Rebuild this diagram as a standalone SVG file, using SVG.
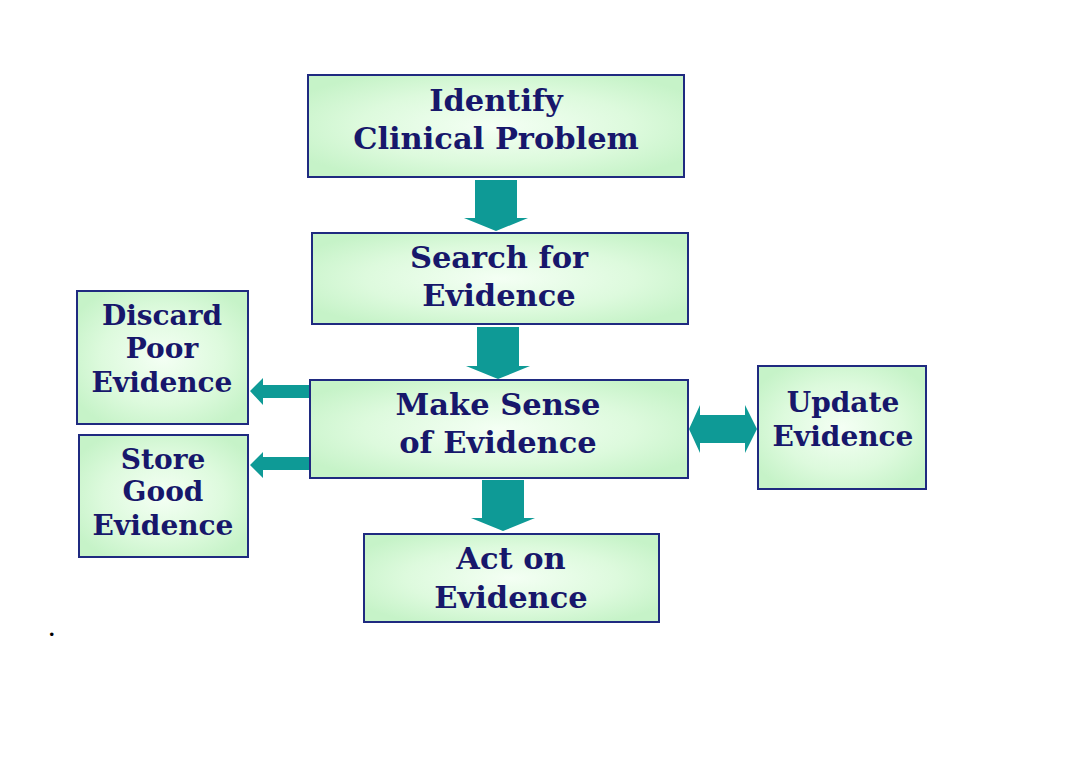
<svg xmlns="http://www.w3.org/2000/svg" width="1080" height="768" viewBox="0 0 1080 768">
<defs>
<radialGradient id="g" cx="50%" cy="50%" r="60%">
<stop offset="0" stop-color="#f4fff4"/>
<stop offset="0.6" stop-color="#ddfadd"/>
<stop offset="1" stop-color="#c6f3c8"/>
</radialGradient>
<style>
.box{fill:url(#g);stroke:#1f2a80;stroke-width:2}
.t{font-family:"DejaVu Serif","Liberation Serif",serif;font-weight:bold;fill:#17176b;text-anchor:middle}
.big{font-size:30.5px}
.sm{font-size:28px}
.arr{fill:#0e9a96}
</style>
</defs>
<rect width="1080" height="768" fill="#ffffff"/>
<g id="connectors">
<polygon class="arr" points="475,180 517,180 517,218 528,218 496,231 464,218 475,218"/>
<polygon class="arr" points="477,327 519,327 519,366 530,366 498,379 466,366 477,366"/>
<polygon class="arr" points="482,480 524,480 524,518 535,518 503,531 471,518 482,518"/>
<polygon class="arr" points="309,385 263,385 263,378 250,391 263,405 263,398 309,398"/>
<polygon class="arr" points="309,457 263,457 263,452 250,465 263,478 263,470 309,470"/>
<polygon class="arr" points="689,429 700,405 700,415 745,415 745,405 757,429 745,453 745,443 700,443 700,453"/>
</g>
<g id="identify">
<rect class="box" x="308" y="75" width="376" height="102"/>
<text class="t big" x="496" y="111">Identify</text>
<text class="t big" x="496" y="149">Clinical Problem</text>
</g>
<g id="search">
<rect class="box" x="312" y="233" width="376" height="91"/>
<text class="t big" x="499" y="268">Search for</text>
<text class="t big" x="499" y="306">Evidence</text>
</g>
<g id="makesense">
<rect class="box" x="310" y="380" width="378" height="98"/>
<text class="t big" x="498" y="415">Make Sense</text>
<text class="t big" x="498" y="453">of Evidence</text>
</g>
<g id="act">
<rect class="box" x="364" y="534" width="295" height="88"/>
<text class="t big" x="511" y="569">Act on</text>
<text class="t big" x="511" y="608">Evidence</text>
</g>
<g id="discard">
<rect class="box" x="77" y="291" width="171" height="133"/>
<text class="t sm" x="162" y="325">Discard</text>
<text class="t sm" x="162" y="358">Poor</text>
<text class="t sm" x="162" y="392">Evidence</text>
</g>
<g id="store">
<rect class="box" x="79" y="435" width="169" height="122"/>
<text class="t sm" x="163" y="469">Store</text>
<text class="t sm" x="163" y="501">Good</text>
<text class="t sm" x="163" y="535">Evidence</text>
</g>
<g id="update">
<rect class="box" x="758" y="366" width="168" height="123"/>
<text class="t sm" x="843" y="412">Update</text>
<text class="t sm" x="843" y="446">Evidence</text>
</g>
<text x="48" y="636" font-family="Liberation Serif,serif" font-size="30" fill="#000">.</text>
</svg>
